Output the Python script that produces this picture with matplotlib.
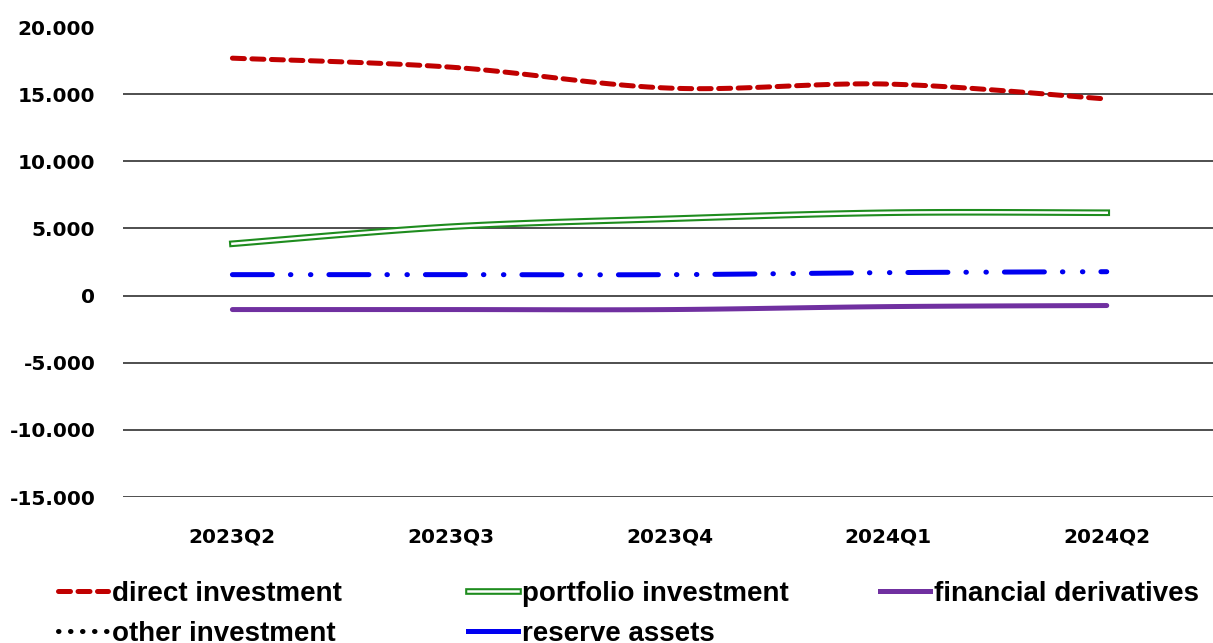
import matplotlib
matplotlib.use("Agg")
import matplotlib.pyplot as plt
import matplotlib.patheffects as pe
from matplotlib.lines import Line2D
from matplotlib.ticker import FuncFormatter
import numpy as np

# quarters on the x axis
quarters = ["2023Q2", "2023Q3", "2023Q4", "2024Q1", "2024Q2"]

# series values
direct_inv = [17680, 17010, 15450, 15750, 14640]
portfolio_inv = [3860, 5130, 5720, 6170, 6170]
fin_derivatives = [-1040, -1040, -1040, -820, -740]
other_inv = [np.nan, np.nan, np.nan, np.nan, np.nan]
reserve_assets = [1560, 1560, 1560, 1710, 1780]

plt.rcParams['font.family'] = ['DejaVu Sans']
plt.rcParams['font.weight'] = 'bold'


def smooth(xs, ys, n=30):
    # catmull-rom spline through the points, like a "smoothed line" chart
    xs = np.asarray(xs, float)
    ys = np.asarray(ys, float)
    px = np.concatenate([[xs[0]], xs, [xs[-1]]])
    py = np.concatenate([[ys[0]], ys, [ys[-1]]])
    outx, outy = [], []
    for i in range(1, len(px) - 2):
        t = np.linspace(0, 1, n, endpoint=(i == len(px) - 3))
        for arr, out in ((px, outx), (py, outy)):
            p0, p1, p2, p3 = arr[i - 1], arr[i], arr[i + 1], arr[i + 2]
            out.extend(0.5 * (2 * p1 + (-p0 + p2) * t
                              + (2 * p0 - 5 * p1 + 4 * p2 - p3) * t ** 2
                              + (-p0 + 3 * p1 - 3 * p2 + p3) * t ** 3))
    return np.array(outx), np.array(outy)


fig = plt.figure(figsize=(12.13, 6.43), dpi=100)
ax = fig.add_axes([0.1015, 0.227, 0.901, 0.731])

x = np.arange(len(quarters))

red = '#C00000'
green = '#1E8C1E'
purple = '#7030A0'
blue = '#0000F0'

direct_style = dict(color=red, lw=3.6, linestyle=(0, (2.4, 1.5)), dash_capstyle='round')
port_style = dict(color='white', lw=1.8,
                  path_effects=[pe.Stroke(linewidth=4.8, foreground=green), pe.Normal()])
fin_style = dict(color=purple, lw=3.6, solid_capstyle='round')
other_style = dict(color='black', lw=3.6, linestyle=(0, (0.1, 2.3)), dash_capstyle='round')
res_style = dict(color=blue, lw=3.6, linestyle=(0, (8, 3.6, 0.1, 3.9, 0.1, 3.6)),
                 dash_capstyle='round')

sx, sy = smooth(x, direct_inv)
ax.plot(sx, sy, zorder=5, **direct_style)

sx, sy = smooth(x, portfolio_inv)
ax.plot(sx, sy, zorder=5, **port_style)

sx, sy = smooth(x, fin_derivatives)
ax.plot(sx, sy, zorder=5, **fin_style)

ax.plot(x, other_inv, zorder=5, **other_style)

sx, sy = smooth(x, reserve_assets)
ax.plot(sx, sy, zorder=5, **res_style)

ax.set_xlim(-0.5, 4.5)
ax.set_ylim(-15000, 20000)
ax.set_yticks(np.arange(-15000, 20001, 5000))
ax.yaxis.set_major_formatter(FuncFormatter(lambda v, p: f"{int(v):,}".replace(",", ".")))
ax.set_xticks(x)
ax.set_xticklabels(quarters)

# horizontal gridlines, none at the top value
for v in np.arange(-15000, 15001, 5000):
    ax.axhline(v, color='#303030', lw=1.2, zorder=1)

for s in ax.spines.values():
    s.set_visible(False)
ax.tick_params(axis='both', length=0, labelsize=14.5)
ax.tick_params(axis='y', pad=20)
ax.tick_params(axis='x', pad=22)
for lab in ax.get_xticklabels() + ax.get_yticklabels():
    lab.set_fontweight('bold')

# legend, three columns placed side by side
h_direct = Line2D([], [], **direct_style)
h_port = Line2D([], [], **port_style)
h_fin = Line2D([], [], color=purple, lw=3.6)
h_other = Line2D([], [], **other_style)
h_res = Line2D([], [], color=blue, lw=3.6)

cols = [
    (58, [h_direct, h_other], ["direct investment", "other investment"]),
    (468, [h_port, h_res], ["portfolio investment", "reserve assets"]),
    (880, [h_fin], ["financial derivatives"]),
]
for xpx, hs, ls in cols:
    fig.legend(hs, ls, loc='upper left', bbox_to_anchor=(xpx / 1213, 0.097),
               frameon=False, handlelength=1.8, handletextpad=0.15,
               labelspacing=0.52, borderaxespad=0, borderpad=0,
               prop={'family': ['Liberation Sans', 'DejaVu Sans'],
                     'size': 20, 'weight': 'bold'})

fig.savefig("out.png", dpi=100)
